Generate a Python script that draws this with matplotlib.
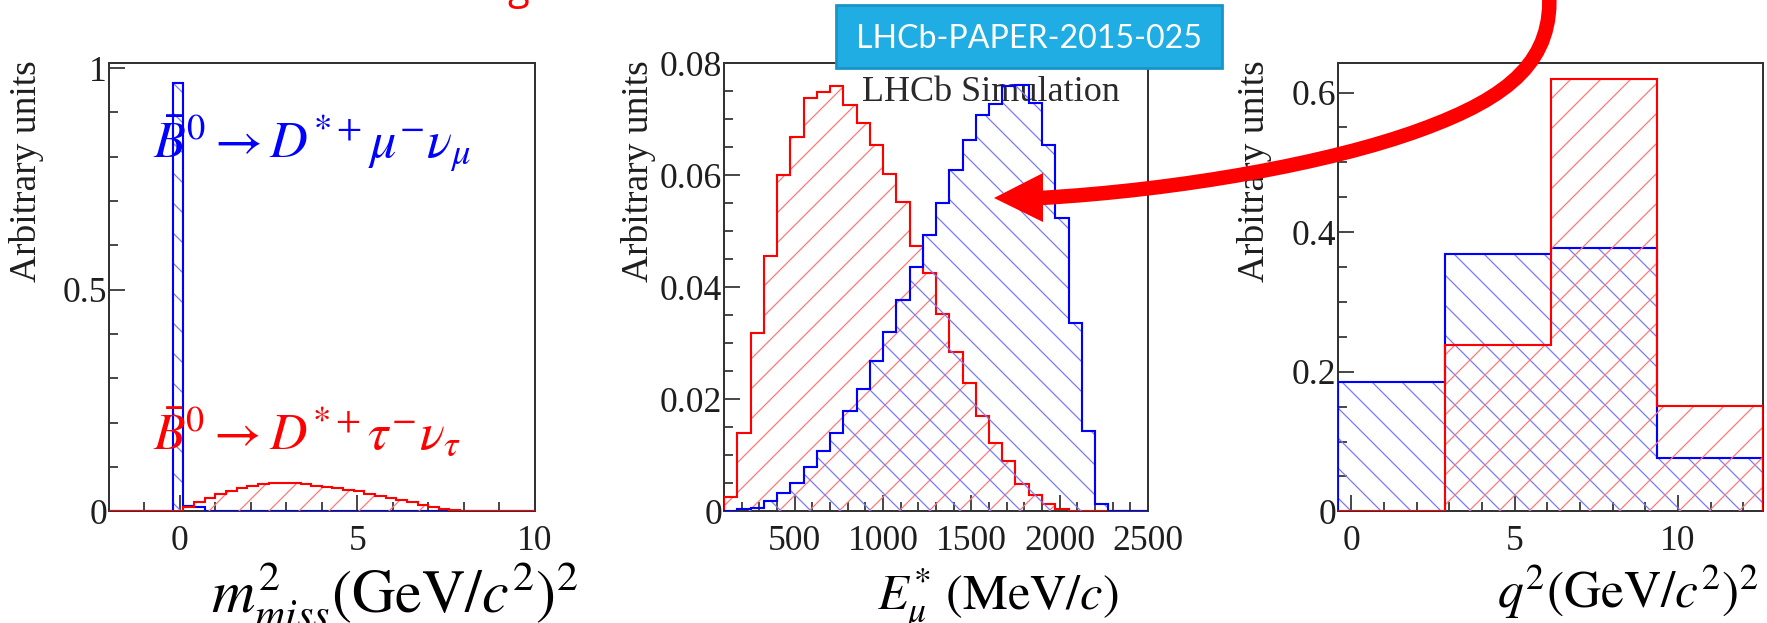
import numpy as np
import matplotlib
matplotlib.use('Agg')
import matplotlib.pyplot as plt
from matplotlib.patches import Rectangle, PathPatch, Polygon
from matplotlib.path import Path
import matplotlib.transforms as mtransforms
from matplotlib.ticker import MultipleLocator, FixedLocator, FuncFormatter

W, H, DPI = 1767, 623, 90

# ------------------------------------------------------------------ data
# left panel: missing mass squared, 40 bins of 0.3 from -2 to 10
mm2_edges = np.round(np.arange(-2.0, 10.0001, 0.3), 2)
mm2_mu = [0, 0, 0, 0, 0, 0, 0.967, 0.011, 0.010, 0,
          0, 0, 0, 0, 0, 0, 0, 0, 0, 0,
          0, 0, 0, 0, 0, 0, 0, 0, 0, 0,
          0, 0, 0, 0, 0, 0, 0, 0, 0, 0]
mm2_tau = [0, 0, 0, 0, 0, 0, 0, 0.010, 0.020, 0.030,
           0.039, 0.046, 0.052, 0.057, 0.061, 0.063, 0.064, 0.063, 0.061, 0.058,
           0.055, 0.052, 0.049, 0.045, 0.040, 0.035, 0.030, 0.025, 0.020, 0.015,
           0.010, 0.006, 0.003, 0, 0, 0, 0, 0, 0, 0]

# middle panel: muon energy, 32 bins of 75 MeV from 100 to 2500
emu_edges = np.arange(100, 2501, 75)
emu_mu = [0, 0.0004, 0.0006, 0.0018, 0.0033, 0.0051, 0.0080, 0.0108, 0.0140, 0.0179,
          0.0219, 0.0268, 0.0321, 0.0378, 0.0437, 0.0493, 0.0550, 0.0610, 0.0663, 0.0708,
          0.0728, 0.0759, 0.0762, 0.0730, 0.0655, 0.0523, 0.0337, 0.0143, 0.0013, 0,
          0, 0]
emu_tau = [0.0026, 0.0140, 0.0319, 0.0456, 0.0601, 0.0669, 0.0738, 0.0748, 0.0759, 0.0725,
           0.0694, 0.0655, 0.0603, 0.0553, 0.0473, 0.0425, 0.0353, 0.0285, 0.0229, 0.0170,
           0.0122, 0.0089, 0.0049, 0.0030, 0.0013, 0.0004, 0, 0, 0, 0,
           0, 0]

# right panel: q^2, 4 bins
q2_edges = [-0.4, 2.85, 6.1, 9.35, 12.6]
q2_mu = [0.186, 0.368, 0.377, 0.076]
q2_tau = [0.0, 0.239, 0.619, 0.151]

mm2_xticks = [0, 5, 10]
mm2_yticks = [0, 0.5, 1]
emu_xticks = [500, 1000, 1500, 2000, 2500]
emu_yticks = [0, 0.02, 0.04, 0.06, 0.08]
q2_xticks = [0, 5, 10]
q2_yticks = [0, 0.2, 0.4, 0.6]

label_mu = r'$\bar{B}^0 \rightarrow D^{*+}\mu^{-}\nu_{\mu}$'
label_tau = r'$\bar{B}^0 \rightarrow D^{*+}\tau^{-}\nu_{\tau}$'
ylab = 'Arbitrary units'
xlab_mm2 = r'$m_{miss}^{2}(\mathrm{GeV}/c^{2})^{2}$'
xlab_emu = r'$E_{\mu}^{*}\ (\mathrm{MeV}/c)$'
xlab_q2 = r'$q^{2}(\mathrm{GeV}/c^{2})^{2}$'
paper = 'LHCb-PAPER-2015-025'
sim = 'LHCb Simulation'

# ------------------------------------------------------------------ style
plt.rcParams['font.family'] = ['Liberation Serif', 'DejaVu Serif']
plt.rcParams['mathtext.fontset'] = 'stix'
plt.rcParams['hatch.linewidth'] = 1.0

RED, BLUE = '#ff0000', '#0000ff'
RED_H, BLUE_H = '#ff7a7a', '#7a7aff'
TXT = '#1e1e1e'

fig = plt.figure(figsize=(W / DPI, H / DPI), dpi=DPI)
PX = mtransforms.Affine2D().scale(1 / W, -1 / H).translate(0, 1) + fig.transFigure


def axrect(x0, y0, x1, y1):
    return [x0 / W, 1 - y1 / H, (x1 - x0) / W, (y1 - y0) / H]


fmt = FuncFormatter(lambda v, p: '%g' % v)


def style(ax, xlim, ylim, xmaj, xmin, ymaj, ymin):
    ax.set_xlim(xlim)
    ax.set_ylim(ylim)
    ax.xaxis.set_major_locator(FixedLocator(xmaj))
    ax.xaxis.set_minor_locator(MultipleLocator(xmin))
    ax.yaxis.set_major_locator(FixedLocator(ymaj))
    ax.yaxis.set_minor_locator(MultipleLocator(ymin))
    ax.xaxis.set_major_formatter(fmt)
    ax.yaxis.set_major_formatter(fmt)
    ax.tick_params(which='both', direction='in', top=False, right=False,
                   color='#222222', width=1.3, labelcolor=TXT, labelsize=28.5)
    ax.tick_params(which='major', length=12.5)
    ax.tick_params(which='minor', length=7)
    ax.tick_params(axis='x', pad=11)
    ax.tick_params(axis='y', pad=1.5)
    for s in ax.spines.values():
        s.set_linewidth(1.6)
        s.set_color('#333333')
    ax.patch.set_alpha(0)


def hist(ax, edges, vals, color, hcolor, hatch, z):
    ax.stairs(vals, edges, fill=True, facecolor='none', edgecolor=hcolor,
              hatch=hatch, linewidth=0, zorder=z)
    ax.stairs(vals, edges, color=color, linewidth=1.7, zorder=z + 0.5)


ax1 = fig.add_axes(axrect(109, 62.8, 534.6, 511.3))
ax2 = fig.add_axes(axrect(724, 62.8, 1148, 511.3))
ax3 = fig.add_axes(axrect(1338.4, 62.8, 1763, 511.3))

hist(ax1, mm2_edges, mm2_mu, BLUE, BLUE_H, '\\', 3)
hist(ax1, mm2_edges, mm2_tau, RED, RED_H, '/', 4)
style(ax1, (-2, 10), (0, 1.012), mm2_xticks, 1, mm2_yticks, 0.1)

hist(ax2, emu_edges, emu_tau, RED, RED_H, '/', 3)
hist(ax2, emu_edges, emu_mu, BLUE, BLUE_H, '\\', 4)
style(ax2, (100, 2500), (0, 0.0801), emu_xticks, 100, emu_yticks, 0.005)

hist(ax3, q2_edges, q2_mu, BLUE, BLUE_H, '\\', 3)
hist(ax3, q2_edges, q2_tau, RED, RED_H, '/', 4)
style(ax3, (-0.4, 12.6), (0, 0.6427), q2_xticks, 1, q2_yticks, 0.05)

texts = []
# y labels
for xc in (27, 639, 1254):
    t = fig.text(xc, 60, ylab, transform=PX, rotation=90, ha='center', va='top',
                 color=TXT, fontsize=28)
    texts.append((t, 222, 'h'))

# decay labels
t = fig.text(153, 157, label_mu, transform=PX, ha='left', va='baseline',
             color=BLUE, fontsize=40, zorder=6)
texts.append((t, 318, 'w'))
t = fig.text(153, 449, label_tau, transform=PX, ha='left', va='baseline',
             color=RED, fontsize=40, zorder=6)
texts.append((t, 308, 'w'))

# x labels
t = fig.text(395, 612, xlab_mm2, transform=PX, ha='center', va='baseline',
             color='black', fontsize=36)
texts.append((t, 368, 'w'))
t = fig.text(997.5, 610, xlab_emu, transform=PX, ha='center', va='baseline',
             color='black', fontsize=36)
texts.append((t, 242, 'w'))
t = fig.text(1628, 608, xlab_q2, transform=PX, ha='center', va='baseline',
             color='black', fontsize=36)
texts.append((t, 262, 'w'))

# LHCb Simulation (inside middle axes, beneath the histogram outlines)
t = ax2.text(862, 101, sim, transform=PX, ha='left', va='baseline',
             color='#2a2a2a', fontsize=27, zorder=1)
texts.append((t, 258, 'w'))

# paper box
fig.add_artist(Rectangle((836, 5), 386, 63, transform=PX, facecolor='#1fade4',
                         edgecolor='#1a93c6', linewidth=2.2, zorder=8))
t = fig.text(1029, 48, paper, transform=PX, ha='center', va='baseline',
             color='white', family='Lato', fontsize=26, zorder=9)
texts.append((t, 345, 'w'))

# cut-off red glyph at the very top (from slide title)
fig.text(507, -1, 'g', transform=PX, ha='left', va='baseline', color=RED,
         family='Open Sans', fontsize=32, zorder=9)

# fit text sizes to the measured footprints
r = fig.canvas.get_renderer()
for t, target, dim in texts:
    bb = t.get_window_extent(renderer=r)
    cur = bb.width if dim == 'w' else bb.height
    if cur > 0:
        t.set_fontsize(t.get_fontsize() * target / cur)

# big red curved arrow
verts = [(1549, -10), (1554, 60), (1511, 97), (1420, 130),
         (1330, 163), (1180, 190), (1040, 198)]
codes = [Path.MOVETO] + [Path.CURVE4] * 6
fig.add_artist(PathPatch(Path(verts, codes), transform=PX, facecolor='none',
                         edgecolor=RED, linewidth=14.5 * 72 / DPI,
                         capstyle='butt', zorder=10))
fig.add_artist(Polygon([(994, 198), (1043, 173), (1043, 222)], closed=True,
                       transform=PX, facecolor=RED, edgecolor='none', zorder=10))

fig.savefig('out.png', dpi=DPI)
